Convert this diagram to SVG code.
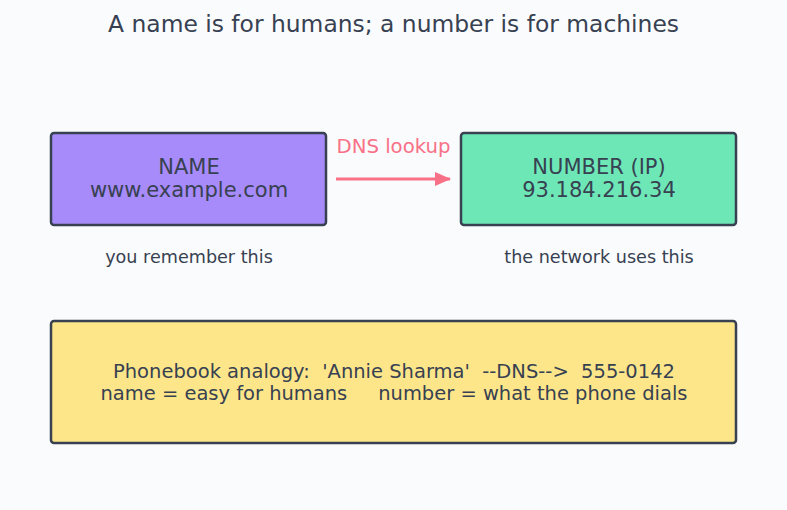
<svg xmlns="http://www.w3.org/2000/svg" width="787" height="510" viewBox="0 0 787 510">
<defs>
<marker id="ah" markerWidth="16" markerHeight="14" refX="15" refY="7" orient="auto" markerUnits="userSpaceOnUse">
<path d="M0,0 L16,7 L0,14 Z" fill="#f87187"/>
</marker>
</defs>
<style>
text{font-family:"DejaVu Sans","Noto Sans",sans-serif;fill:#374151;text-anchor:middle}
.box{stroke:#374151;stroke-width:2.5}
.t{font-size:23.4px}
.n{font-size:21px}
.c{font-size:17.6px}
.b{font-size:19px}
</style>
<rect width="787" height="510" fill="#fafbfd"/>
<text class="t" x="393.5" y="32">A name is for humans; a number is for machines</text>
<g id="name">
<rect class="box" x="51" y="133" width="275" height="92" rx="3" fill="#a78bfa"/>
<text class="n" x="189" y="174">NAME</text>
<text class="n" x="189" y="197">www.example.com</text>
</g>
<g id="number">
<rect class="box" x="461" y="133" width="275" height="92" rx="3" fill="#6ee7b7"/>
<text class="n" x="599" y="174">NUMBER (IP)</text>
<text class="n" x="599" y="197">93.184.216.34</text>
</g>
<g id="connectors">
<line x1="336" y1="179" x2="450" y2="179" stroke="#f87187" stroke-width="3" marker-end="url(#ah)"/>
<text x="393.5" y="153" style="font-size:19.7px;fill:#f87187">DNS lookup</text>
</g>
<g id="captions">
<text class="c" x="189" y="263">you remember this</text>
<text class="c" x="599" y="263">the network uses this</text>
</g>
<g id="phonebook">
<rect class="box" x="51" y="321" width="685" height="122" rx="3" fill="#fde68a"/>
<text class="b" x="394" y="378" textLength="562" lengthAdjust="spacingAndGlyphs" xml:space="preserve">Phonebook analogy:  'Annie Sharma'  --DNS-->  555-0142</text>
<text class="b" x="394" y="400" textLength="587" lengthAdjust="spacingAndGlyphs" xml:space="preserve">name = easy for humans     number = what the phone dials</text>
</g>
</svg>
